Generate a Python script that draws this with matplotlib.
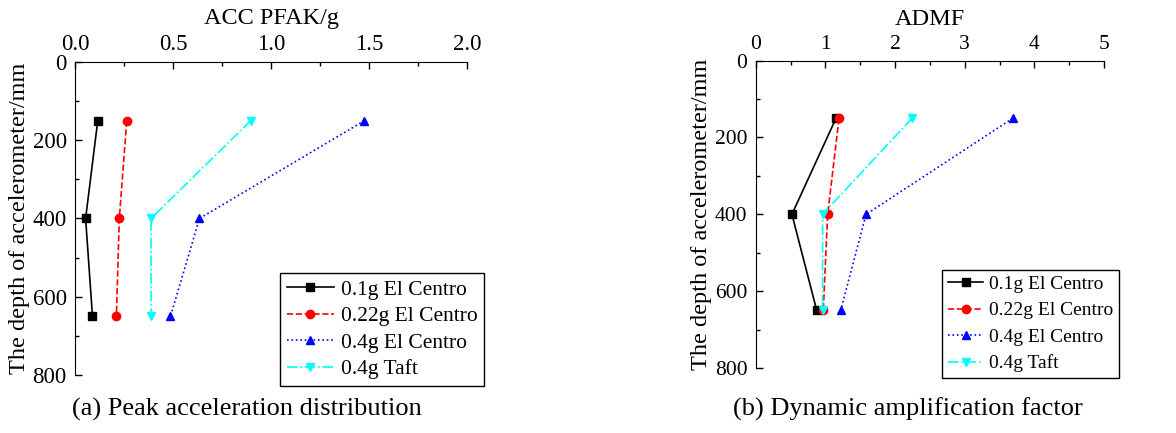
import matplotlib.pyplot as plt

plt.rcParams['font.family'] = ['Liberation Serif', 'DejaVu Serif']
plt.rcParams['mathtext.fontset'] = 'stix'

depth = [150, 400, 650]
labels = ['0.1g El Centro', '0.22g El Centro', '0.4g El Centro', '0.4g Taft']

# peak acceleration (g)
acc_01 = [0.116, 0.054, 0.089]
acc_022 = [0.264, 0.226, 0.211]
acc_04 = [1.477, 0.635, 0.487]
acc_taft = [0.897, 0.388, 0.388]

# dynamic amplification factor
admf_01 = [1.153, 0.52, 0.876]
admf_022 = [1.196, 1.033, 0.97]
admf_04 = [3.69, 1.584, 1.22]
admf_taft = [2.244, 0.96, 0.96]

styles = [
    dict(color='black', linestyle='-', marker='s'),
    dict(color='red', linestyle='--', marker='o'),
    dict(color='blue', linestyle=':', marker='^'),
    dict(color='cyan', linestyle='-.', marker='v'),
]

fig = plt.figure(figsize=(11.76, 4.33), dpi=100)
ax1 = fig.add_axes([0.0638, 0.134, 0.3333, 0.723])
ax2 = fig.add_axes([0.6426, 0.150, 0.2962, 0.710])


def setup(ax, series, xlim, xticks, xminor, xlabel, caption, cap_x, leg_anchor,
          fs, lfs, lhl, lsp):
    for vals, lab, st in zip(series, labels, styles):
        ax.plot(vals, depth, label=lab, linewidth=1.2, markersize=6, **st)
    ax.set_xlim(*xlim)
    ax.set_ylim(800, 0)
    ax.xaxis.tick_top()
    ax.xaxis.set_label_position('top')
    ax.set_xticks(xticks)
    ax.set_xticks(xminor, minor=True)
    ax.set_yticks([0, 200, 400, 600, 800])
    ax.set_yticks([100, 300, 500, 700], minor=True)
    ax.tick_params(which='both', direction='in', labelsize=fs, width=1)
    ax.tick_params(which='major', length=5)
    ax.tick_params(which='minor', length=3)
    ax.tick_params(axis='x', pad=5)
    ax.tick_params(axis='y', pad=6)
    ax.spines['right'].set_visible(False)
    ax.spines['bottom'].set_visible(False)
    ax.set_xlabel(xlabel, fontsize=17.5, labelpad=7)
    ax.set_ylabel('The depth of accelerometer/mm', fontsize=17.5, labelpad=2)
    leg = ax.legend(loc='lower right', bbox_to_anchor=leg_anchor, fontsize=lfs,
                    fancybox=False, edgecolor='black', framealpha=1,
                    handlelength=lhl, borderpad=0.3, labelspacing=lsp,
                    handletextpad=0.3, borderaxespad=0)
    leg.get_frame().set_linewidth(1.0)
    fig.text(cap_x, 0.055, caption, ha='center', va='center', fontsize=19)


setup(ax1, [acc_01, acc_022, acc_04, acc_taft], (0, 2.0),
      [0, 0.5, 1.0, 1.5, 2.0], [0.25, 0.75, 1.25, 1.75],
      'ACC PFAK/g', '(a) Peak acceleration distribution', 0.21, (1.043, -0.035),
      16.5, 15.5, 2.2, 0.3)
ax1.set_xticklabels(['0.0', '0.5', '1.0', '1.5', '2.0'])

setup(ax2, [admf_01, admf_022, admf_04, admf_taft], (0, 5),
      [0, 1, 2, 3, 4, 5], [0.5, 1.5, 2.5, 3.5, 4.5],
      'ADMF', '(b) Dynamic amplification factor', 0.772, (1.043, -0.033),
      15.5, 14, 1.8, 0.45)

fig.savefig('out.png', dpi=100)
